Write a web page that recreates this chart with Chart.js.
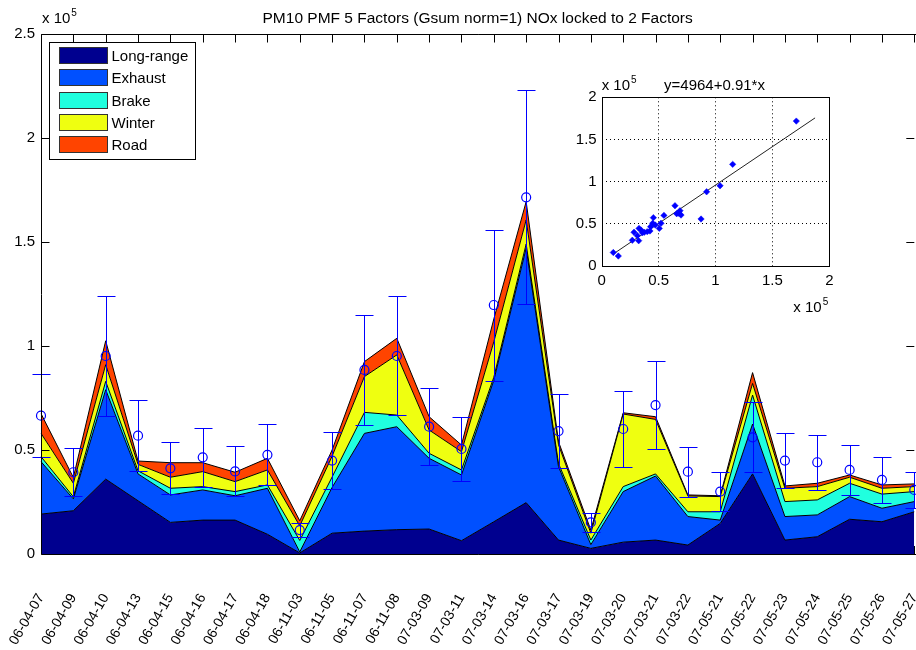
<!DOCTYPE html>
<html>
<head>
<meta charset="utf-8">
<script src="https://cdn.jsdelivr.net/npm/chart.js@4/dist/chart.umd.min.js"></script>
<style>
  html, body { margin: 0; padding: 0; background: #fff; overflow: hidden; }
  #wrap { position: relative; width: 916px; height: 650px; overflow: hidden; background: #fff; }
  #main { position: absolute; left: 0; top: 0; }
  #inset { position: absolute; left: 560px; top: 60px; }
</style>
</head>
<body>
<div id="wrap">
  <canvas id="main" width="920" height="650" style="width:920px;height:650px"></canvas>
  <canvas id="inset" width="290" height="260" style="width:290px;height:260px"></canvas>
</div>
<script>
// ---- sample dates (yy-mm-dd) ----
const dates = ['06-04-07','06-04-09','06-04-10','06-04-13','06-04-15','06-04-16','06-04-17','06-04-18',
  '06-11-03','06-11-05','06-11-07','06-11-08','07-03-09','07-03-11','07-03-14','07-03-16','07-03-17',
  '07-03-19','07-03-20','07-03-21','07-03-22','07-05-21','07-05-22','07-05-23','07-05-24','07-05-25',
  '07-05-26','07-05-27'];

// ---- PMF factor contributions (stacked) ----
const longRange = [19200,20800,36000,25600,15200,16300,16300,9500,500,10000,11000,11700,12000,6400,15500,24700,6700,2700,5700,6700,4300,14700,38500,6700,8300,16700,15500,20300];
const exhaust   = [25200,5700,43000,12900,13200,14500,11700,22100,500,22000,47000,49500,34000,31600,68000,122300,35300,1800,24300,30800,13700,1600,24000,11300,10500,10900,6500,4900];
const brake     = [2400,1000,4000,1500,3200,1600,2000,1600,5500,5000,10100,5600,2400,2400,1500,2000,1500,2200,2400,1000,2300,4000,13900,7200,7200,6400,6800,4800];
const winter    = [11200,6500,8000,3100,5300,7200,4800,7200,7000,10000,17200,28900,11200,8800,17000,11600,9000,3300,34900,26200,7600,7300,5600,6400,6400,2900,2800,2400];
const road      = [9500,2800,11500,1600,7000,4300,4500,5600,2500,3000,7200,8000,6400,3200,11000,8800,1500,1500,600,1300,500,400,5200,1100,1600,1100,1600,1300];

// ---- measured PM10 with uncertainty ----
const observed = [66500,39300,95200,56900,41200,46500,39700,47700,11500,44900,88500,95200,61200,50500,119700,171500,59100,15200,60100,71600,39600,30000,56100,44900,44100,40400,35600,30800];
const obsError = [20000,11600,28800,17100,12500,14300,12000,14700,3500,13600,26500,28600,18600,15300,36300,51500,17900,4400,18200,21300,12000,9200,16800,13300,13300,12200,10900,8800];

// ---- modelled vs measured (inset) ----
const fitModel    = [10200,14600,26900,28400,31300,32500,32800,34500,35700,37400,40000,42400,43000,44800,45400,47100,50600,52100,54700,64400,65900,67900,68800,69700,87300,92200,104000,115100,171000];
const fitMeasured = [16000,11800,30500,40000,36000,30000,44600,42700,39500,40000,40700,41500,46600,50600,57300,48600,44600,50600,60000,71500,62000,62400,65600,60400,55700,88000,95100,120500,171800];
const fitIntercept = 4964;
const fitSlope = 0.91;
const fitRange = [11000, 187500];

// ---- axis ticks ----
const mainTicks = [0, 50000, 100000, 150000, 200000, 250000];
const insetTicks = [0, 50000, 100000, 150000, 200000];

const seriesNames  = ['Long-range', 'Exhaust', 'Brake', 'Winter', 'Road'];
const seriesColors = ['#00008F', '#0050FF', '#20FFDF', '#EFFF10', '#FF4400'];
const seriesValues = [longRange, exhaust, brake, winter, road];

const FONT = "'Liberation Sans', Arial, Helvetica, sans-serif";
const EXP = 1e5;

function fmt(v) { return String(Math.round(v / EXP * 100) / 100); }
const crisp = v => Math.round(v) + 0.5;

// "x 10^5" multiplier text
function drawExponent(ctx, x, y) {
  ctx.save();
  ctx.fillStyle = '#000';
  ctx.textBaseline = 'alphabetic';
  ctx.textAlign = 'left';
  ctx.font = '15px ' + FONT;
  ctx.fillText('x 10', x, y);
  const w = ctx.measureText('x 10').width;
  ctx.font = '10px ' + FONT;
  ctx.fillText('5', x + w + 1, y - 7);
  ctx.restore();
}

// Axes box, tick marks, error bars, title and legend
const mainDecor = {
  id: 'mainDecor',
  beforeDatasetsDraw(chart) {
    const { ctx, chartArea: a, scales: { x } } = chart;
    ctx.save();
    ctx.strokeStyle = '#000';
    ctx.lineWidth = 1;
    ctx.beginPath();
    for (let i = 0; i < dates.length; i++) {
      const px = crisp(x.getPixelForValue(i));
      ctx.moveTo(px, a.bottom); ctx.lineTo(px, a.bottom - 8);
    }
    ctx.stroke();
    ctx.restore();
  },
  afterDatasetsDraw(chart) {
    const { ctx, chartArea: a, scales: { x, y } } = chart;
    ctx.save();
    // error bars
    ctx.strokeStyle = '#0000FF';
    ctx.lineWidth = 1;
    observed.forEach((v, i) => {
      const px = crisp(x.getPixelForValue(i));
      const t = crisp(y.getPixelForValue(v + obsError[i]));
      const b = crisp(y.getPixelForValue(v - obsError[i]));
      ctx.beginPath();
      ctx.moveTo(px, t); ctx.lineTo(px, b);
      ctx.moveTo(px - 9, t); ctx.lineTo(px + 9, t);
      ctx.moveTo(px - 9, b); ctx.lineTo(px + 9, b);
      ctx.stroke();
    });

    // box and ticks
    ctx.strokeStyle = '#000';
    const L = crisp(a.left), T = crisp(a.top), B = crisp(a.bottom), R = a.right;
    ctx.beginPath();
    ctx.moveTo(L, B); ctx.lineTo(L, T); ctx.lineTo(R + 2, T);
    ctx.moveTo(L, B); ctx.lineTo(R + 2, B);
    ctx.stroke();
    ctx.beginPath();
    for (let i = 0; i < dates.length; i++) {
      const px = crisp(x.getPixelForValue(i));
      ctx.moveTo(px, T); ctx.lineTo(px, T + 8);
    }
    mainTicks.forEach(v => {
      const py = crisp(y.getPixelForValue(v));
      ctx.moveTo(L, py); ctx.lineTo(L + 8, py);
      ctx.moveTo(R, py); ctx.lineTo(R - 8, py);
    });
    ctx.stroke();
    ctx.restore();
  },
  afterDraw(chart) {
    const { ctx, chartArea: a } = chart;
    ctx.save();
    // title
    ctx.fillStyle = '#000';
    ctx.font = '15.5px ' + FONT;
    ctx.textAlign = 'center';
    ctx.textBaseline = 'alphabetic';
    ctx.fillText('PM10 PMF 5 Factors (Gsum norm=1) NOx locked to 2 Factors', (a.left + a.right) / 2, 22.5);
    drawExponent(ctx, a.left + 1, 23);

    // legend
    const lx = 49.5, ly = 42.5, lw = 146, lh = 117;
    ctx.fillStyle = '#fff';
    ctx.fillRect(lx, ly, lw, lh);
    ctx.strokeStyle = '#000';
    ctx.lineWidth = 1;
    ctx.strokeRect(lx, ly, lw, lh);
    ctx.font = '15px ' + FONT;
    ctx.textAlign = 'left';
    chart.data.datasets.slice(0, seriesNames.length).forEach((ds, i) => {
      const sy = 47.5 + Math.round(i * 22.25);
      ctx.fillStyle = ds.backgroundColor;
      ctx.fillRect(59.5, sy, 48, 16);
      ctx.strokeStyle = '#333';
      ctx.strokeRect(59.5, sy, 48, 16);
      ctx.fillStyle = '#000';
      ctx.fillText(ds.label, 111.5, sy + 13.5);
    });
    ctx.restore();
  }
};

const areaSets = seriesValues.map((vals, i) => ({
  label: seriesNames[i],
  data: vals,
  backgroundColor: seriesColors[i],
  borderColor: '#000',
  borderWidth: 1,
  fill: i === 0 ? 'origin' : '-1',
  pointRadius: 0,
  tension: 0,
  stack: 'pmf'
}));

const obsSet = {
  label: 'Measured',
  data: observed,
  stack: 'obs',
  showLine: false,
  fill: false,
  pointStyle: 'circle',
  pointRadius: 4.5,
  pointBorderWidth: 1.2,
  pointBorderColor: '#0000FF',
  pointBackgroundColor: 'rgba(0,0,0,0)',
  borderColor: '#0000FF',
  order: -1
};

new Chart(document.getElementById('main'), {
  type: 'line',
  data: { labels: dates, datasets: [...areaSets, obsSet] },
  options: {
    responsive: false,
    devicePixelRatio: 1,
    animation: false,
    events: [],
    layout: { padding: { top: 34, left: 0, right: 0.6, bottom: 0 } },
    plugins: { legend: { display: false }, tooltip: { enabled: false }, title: { display: false } },
    scales: {
      x: {
        type: 'category',
        offset: false,
        grid: { display: false, drawTicks: false },
        border: { display: false },
        ticks: {
          autoSkip: false, minRotation: 60, maxRotation: 60, padding: 37,
          color: '#000', font: { family: FONT, size: 14 }
        },
        afterFit(s) { s.height = 96; s.paddingLeft = 0; s.paddingRight = 0; }
      },
      y: {
        stacked: true,
        min: 0, max: 250000,
        afterBuildTicks(s) { s.ticks = mainTicks.map(v => ({ value: v })); },
        grid: { display: false, drawTicks: false },
        border: { display: false },
        ticks: { padding: 6, color: '#000', font: { family: FONT, size: 15 }, callback: v => fmt(v) },
        afterFit(s) { s.width = 41; s.paddingTop = 0; s.paddingBottom = 0; }
      }
    }
  },
  plugins: [mainDecor]
});

// ---- inset: modelled vs measured ----
const insetDecor = {
  id: 'insetDecor',
  afterDraw(chart) {
    const { ctx, chartArea: a } = chart;
    ctx.save();
    ctx.strokeStyle = '#000';
    ctx.lineWidth = 1;
    const L = crisp(a.left), R = crisp(a.right), T = crisp(a.top), B = crisp(a.bottom);
    ctx.strokeRect(L, T, R - L, B - T);
    drawExponent(ctx, a.left, a.top - 7);
    ctx.fillStyle = '#000';
    ctx.font = '15px ' + FONT;
    ctx.textAlign = 'center';
    ctx.fillText('y=' + fitIntercept + '+' + fitSlope + '*x', (a.left + a.right) / 2 - 1, a.top - 7);
    drawExponent(ctx, a.right - 36, a.bottom + 46);
    ctx.restore();
  }
};

const dotted = (ctx) => (ctx.tick && (ctx.tick.value === 0 || ctx.tick.value === 200000)) ? 'rgba(0,0,0,0)' : '#000';

new Chart(document.getElementById('inset'), {
  type: 'scatter',
  data: {
    datasets: [
      {
        label: 'Samples',
        data: fitModel.map((v, i) => ({ x: v, y: fitMeasured[i] })),
        pointStyle: 'rectRot',
        pointRadius: 3.2,
        pointBackgroundColor: '#0000FF',
        pointBorderColor: '#0000FF',
        pointBorderWidth: 0.5
      },
      {
        label: 'Fit',
        type: 'line',
        data: fitRange.map(v => ({ x: v, y: fitIntercept + fitSlope * v })),
        borderColor: '#222',
        borderWidth: 1,
        pointRadius: 0,
        fill: false,
        showLine: true
      }
    ]
  },
  options: {
    responsive: false,
    devicePixelRatio: 1,
    animation: false,
    events: [],
    layout: { padding: { top: 37.3, left: 0, right: 20.7, bottom: 0 } },
    plugins: { legend: { display: false }, tooltip: { enabled: false } },
    scales: {
      x: {
        type: 'linear', min: 0, max: 200000,
        afterBuildTicks(s) { s.ticks = insetTicks.map(v => ({ value: v })); },
        grid: { color: dotted, lineWidth: 1, drawTicks: false },
        border: { display: false, dash: [1, 3] },
        ticks: { padding: 6, color: '#000', font: { family: FONT, size: 15 }, callback: v => fmt(v) },
        afterFit(s) { s.height = 54; s.paddingLeft = 0; s.paddingRight = 0; }
      },
      y: {
        type: 'linear', min: 0, max: 200000,
        afterBuildTicks(s) { s.ticks = insetTicks.map(v => ({ value: v })); },
        grid: { color: dotted, lineWidth: 1, drawTicks: false },
        border: { display: false, dash: [1, 3] },
        ticks: { padding: 5, color: '#000', font: { family: FONT, size: 15 }, callback: v => fmt(v) },
        afterFit(s) { s.width = 41.7; s.paddingTop = 0; s.paddingBottom = 0; }
      }
    }
  },
  plugins: [insetDecor]
});
</script>
</body>
</html>
